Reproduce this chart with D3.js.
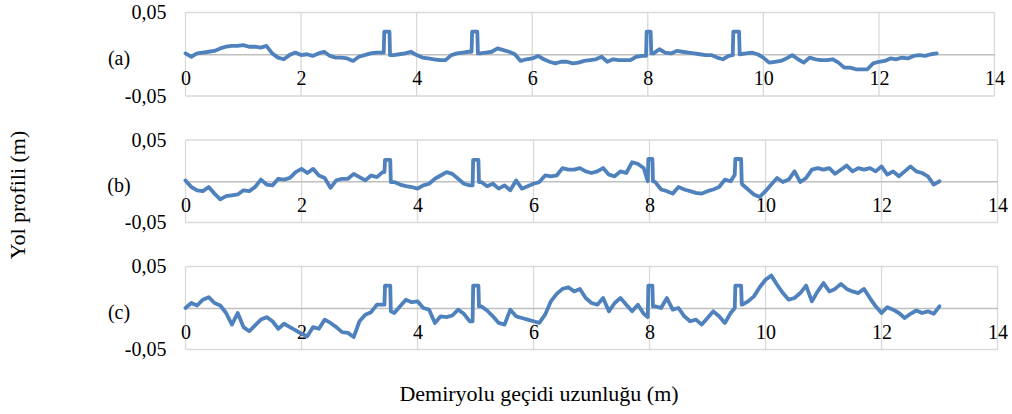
<!DOCTYPE html>
<html>
<head>
<meta charset="utf-8">
<script src="https://cdn.jsdelivr.net/npm/d3@7"></script>
<style>
  body { margin: 0; background: #fff; }
  svg { font-family: "Liberation Serif", "Times New Roman", serif; }
</style>
</head>
<body>
<svg id="drawing_region"></svg>
<script>
// distance along the crossing (m), shared by the three profiles
var distance = [
  0.0, 0.1, 0.2, 0.3, 0.4, 0.5, 0.6, 0.7, 0.8, 0.9,
  1.0, 1.1, 1.2, 1.3, 1.4, 1.5, 1.6, 1.7, 1.8, 1.9,
  2.0, 2.1, 2.2, 2.3, 2.4, 2.5, 2.6, 2.7, 2.8, 2.9,
  3.0, 3.1, 3.2, 3.3, 3.4, 3.43, 3.44, 3.53, 3.54, 3.6, 3.7, 3.8, 3.9,
  4.0, 4.1, 4.2, 4.3, 4.4, 4.5, 4.6, 4.7, 4.8, 4.9, 4.95, 4.96, 5.05, 5.06,
  5.1, 5.2, 5.3, 5.4, 5.5, 5.6, 5.7, 5.8, 5.9,
  6.0, 6.1, 6.2, 6.3, 6.4, 6.5, 6.6, 6.7, 6.8, 6.9,
  7.0, 7.1, 7.2, 7.3, 7.4, 7.5, 7.6, 7.7, 7.8, 7.9, 7.97, 7.98, 8.05, 8.06,
  8.1, 8.2, 8.3, 8.4, 8.5, 8.6, 8.7, 8.8, 8.9,
  9.0, 9.1, 9.2, 9.3, 9.4, 9.47, 9.48, 9.58, 9.59, 9.6, 9.7, 9.8, 9.9,
  10.0, 10.1, 10.2, 10.3, 10.4, 10.5, 10.6, 10.7, 10.8, 10.9,
  11.0, 11.1, 11.2, 11.3, 11.4, 11.5, 11.6, 11.7, 11.8, 11.9,
  12.0, 12.1, 12.2, 12.3, 12.4, 12.5, 12.6, 12.7, 12.8, 12.9,
  13.0
];

// (a)
var profile_a = [
  0.001, -0.003, 0.001, 0.002, 0.003, 0.004, 0.007, 0.009, 0.010, 0.010,
  0.011, 0.009, 0.009, 0.008, 0.010, 0.001, -0.004, -0.006, -0.001, 0.002,
  -0.001, 0.000, -0.002, 0.001, 0.003, -0.002, -0.004, -0.004, -0.005, -0.008,
  -0.003, -0.001, 0.001, 0.002, 0.002, 0.002, 0.027, 0.027, -0.001, -0.001, 0.000, 0.001, 0.003,
  -0.001, -0.004, -0.005, -0.006, -0.007, -0.007, -0.001, 0.001, 0.002, 0.003, 0.003, 0.027, 0.027, 0.001,
  0.001, 0.002, 0.003, 0.007, 0.005, 0.003, 0.000, -0.008, -0.006,
  -0.005, -0.002, -0.006, -0.009, -0.011, -0.009, -0.009, -0.011, -0.010, -0.008,
  -0.007, -0.006, -0.003, -0.009, -0.006, -0.007, -0.007, -0.007, -0.003, -0.002, -0.002, 0.027, 0.027, 0.001,
  0.001, 0.006, 0.002, 0.001, 0.004, 0.003, 0.002, 0.001, 0.000,
  -0.001, -0.001, -0.004, -0.006, -0.002, -0.001, 0.027, 0.027, 0.000, 0.000, 0.001, 0.002, 0.000,
  -0.004, -0.010, -0.009, -0.008, -0.005, -0.001, -0.006, -0.010, -0.004, -0.006,
  -0.007, -0.007, -0.006, -0.010, -0.016, -0.016, -0.018, -0.018, -0.018, -0.011,
  -0.009, -0.008, -0.005, -0.006, -0.004, -0.005, -0.002, -0.001, -0.002, 0.000,
  0.001
];

// (b)
var profile_b = [
  0.001, -0.007, -0.011, -0.012, -0.007, -0.015, -0.022, -0.018, -0.017, -0.016,
  -0.011, -0.012, -0.007, 0.002, -0.004, -0.005, 0.003, 0.002, 0.004, 0.011,
  0.015, 0.010, 0.015, 0.007, 0.004, -0.008, 0.001, 0.003, 0.003, 0.009,
  0.005, 0.001, 0.007, 0.005, 0.011, 0.011, 0.026, 0.026, -0.001, -0.001, -0.004, -0.006, -0.007,
  -0.009, -0.005, -0.003, 0.003, 0.007, 0.011, 0.009, 0.003, -0.003, -0.005, -0.005, 0.026, 0.026, -0.001,
  -0.001, -0.006, -0.003, -0.009, -0.005, -0.011, 0.001, -0.009, -0.006,
  -0.003, -0.001, 0.007, 0.006, 0.007, 0.016, 0.014, 0.014, 0.016, 0.012,
  0.010, 0.012, 0.016, 0.008, 0.006, 0.012, 0.010, 0.023, 0.021, 0.016, 0.000, 0.027, 0.027, 0.000,
  -0.001, -0.010, -0.012, -0.015, -0.007, -0.010, -0.012, -0.014, -0.015,
  -0.012, -0.010, -0.007, 0.002, 0.000, 0.008, 0.027, 0.027, -0.002, -0.004, -0.010, -0.016, -0.019,
  -0.012, -0.004, 0.004, -0.001, 0.002, 0.012, -0.001, 0.004, 0.014, 0.016,
  0.014, 0.016, 0.009, 0.014, 0.019, 0.012, 0.016, 0.014, 0.016, 0.012,
  0.018, 0.008, 0.012, 0.006, 0.012, 0.018, 0.012, 0.010, 0.006, -0.004,
  0.000
];

// (c)
var profile_c = [
  0.000, 0.006, 0.003, 0.010, 0.013, 0.006, 0.003, -0.006, -0.020, -0.006,
  -0.023, -0.028, -0.021, -0.014, -0.011, -0.016, -0.025, -0.019, -0.023, -0.027,
  -0.031, -0.034, -0.023, -0.025, -0.014, -0.018, -0.023, -0.029, -0.030, -0.035,
  -0.016, -0.008, -0.005, 0.004, 0.004, 0.004, 0.027, 0.027, -0.004, -0.006, 0.002, 0.010, 0.007,
  0.008, 0.000, -0.002, -0.018, -0.010, -0.011, -0.009, -0.002, -0.007, -0.016, -0.016, 0.027, 0.027, 0.002,
  0.002, -0.003, -0.010, -0.018, -0.020, -0.002, -0.010, -0.012, -0.014,
  -0.016, -0.018, -0.008, 0.008, 0.017, 0.023, 0.025, 0.020, 0.023, 0.012,
  0.006, 0.004, 0.012, -0.004, 0.006, 0.012, 0.004, -0.004, 0.004, -0.007, -0.011, 0.027, 0.027, 0.002,
  0.002, 0.000, 0.012, -0.002, 0.000, -0.010, -0.016, -0.014, -0.020,
  -0.012, -0.004, -0.010, -0.018, -0.006, 0.000, 0.027, 0.027, 0.004, 0.004, 0.008, 0.014, 0.025,
  0.034, 0.039, 0.028, 0.018, 0.010, 0.012, 0.018, 0.027, 0.008, 0.020,
  0.030, 0.020, 0.023, 0.029, 0.023, 0.020, 0.018, 0.023, 0.012, 0.002,
  -0.006, 0.001, -0.002, -0.006, -0.012, -0.007, -0.003, -0.006, -0.004, -0.007,
  0.002
];

var panel_labels = ['(a)', '(b)', '(c)'];
var x_ticks = [0, 2, 4, 6, 8, 10, 12, 14];
var y_ticks = [-0.05, 0.05];
var y_grid = [-0.05, 0.05];

var profiles = [profile_a, profile_b, profile_c];

var config = {
    width: 1012,
    height: 414,
    left: 185.5,
    panels: [
        {top: 12.5, bottom: 96, right: 994.5},
        {top: 140, bottom: 222.5, right: 997.5},
        {top: 266.5, bottom: 349.5, right: 997.5}
    ]
};

var svg = d3.select('#drawing_region')
    .attr('width', config.width)
    .attr('height', config.height);

// comma decimals and a plain hyphen for the minus sign, as in the original
var fmt = d => d3.format('.2f')(d).replace('.', ',').replace('\u2212', '-');

profiles.forEach((values, i) => {
    var p = config.panels[i];
    var data = d3.zip(distance, values);

    var xscale = d3.scaleLinear()
        .domain([0, 14])
        .range([config.left, p.right]);

    var yscale = d3.scaleLinear()
        .domain([-0.05, 0.05])
        .range([p.bottom, p.top]);

    var g = svg.append('g');

    // horizontal grid
    g.append('g')
        .selectAll('line')
        .data(y_grid)
        .join('line')
        .attr('x1', config.left)
        .attr('x2', p.right)
        .attr('y1', d => yscale(d))
        .attr('y2', d => yscale(d))
        .attr('stroke', '#d9d9d9')
        .attr('stroke-width', 1.3);

    // vertical grid
    g.append('g')
        .selectAll('line')
        .data(x_ticks)
        .join('line')
        .attr('x1', d => xscale(d))
        .attr('x2', d => xscale(d))
        .attr('y1', p.top)
        .attr('y2', p.bottom)
        .attr('stroke', '#d9d9d9')
        .attr('stroke-width', 1.3);

    // y axis labels
    var yaxis = d3.axisLeft(yscale)
        .tickValues(y_ticks)
        .tickFormat(fmt)
        .tickSize(0)
        .tickPadding(19);

    var yaxis_group = g.append('g')
        .attr('transform', `translate(${config.left}, 0)`)
        .call(yaxis);
    yaxis_group.select('.domain').remove();
    yaxis_group.selectAll('text')
        .attr('font-family', '"Liberation Serif", serif')
        .attr('font-size', '20px')
        .attr('fill', '#000');

    // x axis crossing at zero
    var xaxis = d3.axisBottom(xscale)
        .tickValues(x_ticks)
        .tickFormat(d3.format('d'))
        .tickSize(0)
        .tickPadding(17);

    var xaxis_group = g.append('g')
        .attr('transform', `translate(0, ${yscale(0)})`)
        .call(xaxis);
    xaxis_group.select('.domain')
        .attr('stroke', '#bfbfbf')
        .attr('stroke-width', 1.5);
    xaxis_group.selectAll('text')
        .attr('font-family', '"Liberation Serif", serif')
        .attr('font-size', '20px')
        .attr('fill', '#000');

    // profile line
    g.append('path')
        .datum(data)
        .attr('fill', 'none')
        .attr('stroke', '#4f81bd')
        .attr('stroke-width', 3.8)
        .attr('stroke-linejoin', 'round')
        .attr('stroke-linecap', 'round')
        .attr('d', d3.line()
            .x(d => xscale(d[0]))
            .y(d => yscale(d[1])));

    // panel label
    g.append('text')
        .attr('x', 119)
        .attr('y', yscale(0) + 4)
        .attr('text-anchor', 'middle')
        .attr('dominant-baseline', 'central')
        .attr('font-size', '20px')
        .text(panel_labels[i]);
});

// axis titles
svg.append('text')
    .attr('transform', 'translate(25, 195) rotate(-90)')
    .attr('text-anchor', 'middle')
    .attr('font-size', '22px')
    .text('Yol profili (m)');

svg.append('text')
    .attr('x', 539)
    .attr('y', 401)
    .attr('text-anchor', 'middle')
    .attr('font-size', '22px')
    .text('Demiryolu geçidi uzunluğu (m)');
</script>
</body>
</html>
